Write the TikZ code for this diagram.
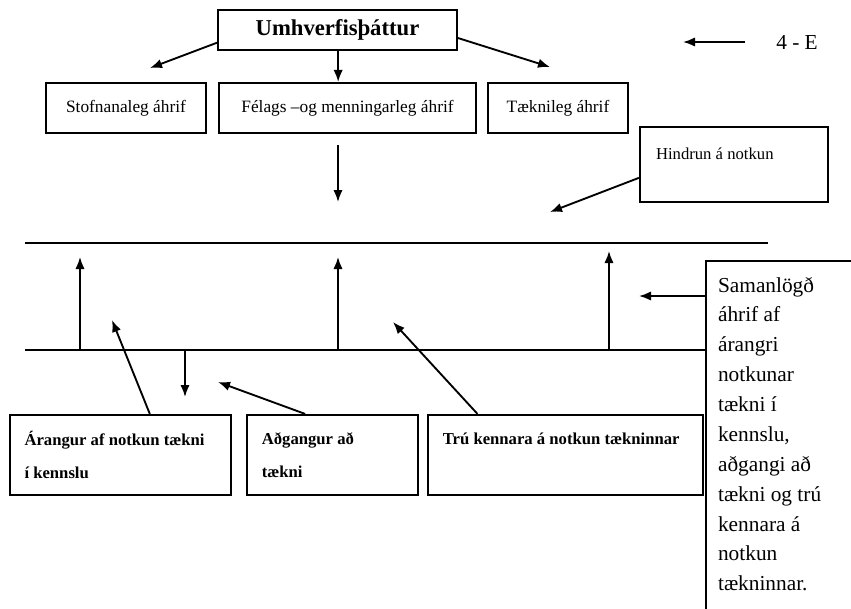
\documentclass[tikz,border=0pt]{standalone}
\usepackage{fontspec}
\setmainfont{Liberation Serif}
\usetikzlibrary{arrows.meta}

\begin{document}
\begin{tikzpicture}[x=0.75pt,y=-0.75pt]

\def\lw{1.6pt}

\tikzset{
    every node/.style={font=\fontsize{13}{15}\selectfont},
    wire/.style={->, >={Latex[length=9pt,width=7pt]}, draw, line width=1.4pt},
    rule/.style={draw, line width=1.6pt},
    box/.style={draw, line width=\lw, inner sep=0pt},
    factor/.style={box, minimum height=37.5pt},
    result/.style={box, minimum height=60pt, align=flush left, inner xsep=11pt,
        font=\bfseries\fontsize{12.5}{24.75}\selectfont}
}

\clip (0,0) rectangle (851,608);

\node[box, minimum width=179pt, minimum height=30pt, font=\bfseries\fontsize{17}{19}\selectfont] (environment) at (337.5,30) {Umhverfisþáttur};
\node[factor, minimum width=120pt] (institutional) at (126,108) {Stofnanaleg áhrif};
\node[factor, minimum width=193pt] (social) at (347.5,108) {Félags –og menningarleg áhrif};
\node[factor, minimum width=105pt] (technical) at (558,108) {Tæknileg áhrif};
\node[box, minimum width=141pt, minimum height=56pt, text width=117pt, text depth=16pt, align=flush left, font=\fontsize{12.5}{15}\selectfont] (barrier) at (734,164.5) {Hindrun á notkun};
\node[font=\fontsize{16}{18}\selectfont] (code) at (797,42) {4 - E};

\node[result, minimum width=166pt, text width=144pt] (outcome) at (120.5,455) {Árangur af notkun tækni\\ í kennslu};
\node[result, minimum width=128pt, text width=106pt] (access) at (332.5,455) {Aðgangur að\\ tækni};
\node[result, minimum width=206pt, text width=184pt] (belief) at (565.5,455) {Trú kennara á notkun tækninnar\\ \mbox{}};
\node[box, anchor=north west, text width=120pt, inner xsep=9pt, inner ysep=12pt, align=flush left, font=\fontsize{16}{22.4}\selectfont] (combined) at (705,260) {Samanlögð\\ áhrif af\\ árangri\\ notkunar\\ tækni í\\ kennslu,\\ aðgangi að\\ tækni og trú\\ kennara á\\ notkun\\ tækninnar.\\[10pt] \mbox{}};

\coordinate (code tail) at (745,42);
\coordinate (code tip) at (683,42);
\coordinate (left tip) at (150,68);
\coordinate (right tip) at (550,67);
\coordinate (pressure tail) at (338,145);
\coordinate (pressure tip) at (338,202);
\coordinate (barrier tip) at (550,212);
\coordinate (top left) at (25,243);
\coordinate (top right) at (768,243);
\coordinate (base left) at (25,350);
\coordinate (drop tail) at (185,350);
\coordinate (drop tip) at (185,397);
\coordinate (outcome tip) at (112,320);
\coordinate (access tip) at (218,382);
\coordinate (belief tip) at (393,322);
\coordinate (combined tip) at (639,296);

\path[wire] (code tail) -- (code tip);
\path[wire] ([yshift=-9.5pt]environment.west) -- (left tip);
\path[wire] ([yshift=-6pt]environment.east) -- (right tip);
\path[wire] ([xshift=0.5pt]environment.south) -- ([xshift=0.5pt]environment.south |- social.north);
\path[wire] (pressure tail) -- (pressure tip);
\path[wire] ([yshift=-10pt]barrier.west) -- (barrier tip);

\path[rule] (top left) -- (top right);
\path[rule] (base left) -- (base left -| combined.west);

\foreach \x/\tip in {80/257,338/257,609/251} {
    \coordinate (up foot \x) at (\x,350);
    \coordinate (up tip \x) at (\x,\tip);
    \path[wire] (up foot \x) -- (up tip \x);
}

\path[wire] (drop tail) -- (drop tip);
\path[wire] ([xshift=22pt]outcome.north) -- (outcome tip);
\path[wire] ([xshift=-20.5pt]access.north) -- (access tip);
\path[wire] ([xshift=-66pt]belief.north) -- (belief tip);
\path[wire] ([yshift=-27pt]combined.north west) -- (combined tip);

\end{tikzpicture}
\end{document}
